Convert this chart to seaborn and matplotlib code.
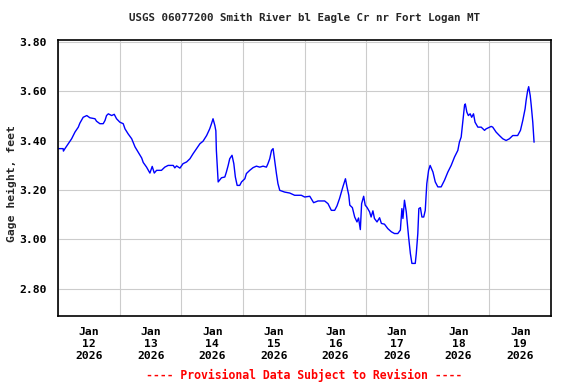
import matplotlib
matplotlib.use("Agg")
import matplotlib.pyplot as plt
import matplotlib.dates as mdates
import seaborn as sns
import pandas as pd

# hours after 2026-01-12 00:00 and gage height (ft)
hours = [0.0, 1.9, 2.0, 2.6, 3.9, 5.2, 6.5, 7.8, 8.4, 9.7, 11.1, 12.3, 14.3, 14.9,
         16.2, 17.5, 18.2, 18.8, 19.5, 20.8, 21.8, 22.7, 24.0, 25.3, 26.0, 27.2,
         28.6, 29.9, 31.1, 32.5, 33.1, 34.4, 35.7, 36.6, 37.4, 38.3, 40.2, 41.5,
         42.8, 44.8, 45.4, 46.1, 47.4, 48.6, 50.0, 51.3, 52.5, 53.9, 55.2, 56.4,
         57.8, 59.0, 59.7, 60.3, 61.0, 61.4, 61.6, 62.3, 63.6, 64.9, 65.5, 66.2,
         66.8, 67.7, 68.4, 69.0, 69.7, 70.7, 71.4, 72.7, 73.3, 74.6, 75.9, 77.2,
         78.5, 79.8, 81.1, 81.7, 82.4, 83.1, 83.7, 84.3, 85.0, 85.6, 86.3, 88.2,
         90.2, 92.1, 94.7, 96.0, 98.0, 99.5, 101.2, 103.8, 105.1, 106.4, 107.7,
         108.6, 109.6, 110.3, 110.9, 111.9, 112.5, 113.2, 113.6, 114.6, 115.5,
         116.4, 117.0, 117.7, 118.2, 119.0, 119.6, 120.3, 121.3, 121.9, 122.6,
         123.2, 124.2, 125.2, 125.9, 127.1, 128.4, 129.8, 131.0, 132.3, 133.3,
         133.9, 134.3, 134.9, 135.6, 136.5, 137.2, 137.8, 139.1, 139.5, 140.1,
         140.5, 141.1, 141.7, 142.4, 143.0, 143.6, 144.3, 144.9, 146.0, 146.9,
         147.9, 149.2, 150.5, 151.8, 153.1, 154.4, 155.7, 156.3, 157.0, 157.6,
         158.3, 158.6, 159.2, 159.8, 160.5, 161.1, 161.8, 162.4, 163.5, 164.8,
         166.1, 166.7, 168.7, 169.3, 170.6, 171.9, 173.2, 174.5, 175.8, 177.1,
         179.0, 180.1, 181.0, 181.9, 182.3, 182.9, 183.3, 183.9, 184.3, 184.9,
         185.4]
gage_ft = [3.368, 3.368, 3.358, 3.368, 3.388, 3.408, 3.435, 3.455, 3.471, 3.495,
           3.502, 3.493, 3.489, 3.479, 3.469, 3.469, 3.482, 3.502, 3.509, 3.502,
           3.507, 3.489, 3.475, 3.469, 3.448, 3.428, 3.408, 3.375, 3.354, 3.330,
           3.312, 3.293, 3.269, 3.296, 3.269, 3.280, 3.280, 3.293, 3.300, 3.300,
           3.290, 3.298, 3.289, 3.307, 3.314, 3.327, 3.347, 3.368, 3.388, 3.398,
           3.421, 3.448, 3.469, 3.489, 3.462, 3.440, 3.361, 3.233, 3.250, 3.253,
           3.273, 3.300, 3.327, 3.341, 3.307, 3.253, 3.219, 3.219, 3.233, 3.246,
           3.267, 3.280, 3.291, 3.297, 3.293, 3.297, 3.293, 3.307, 3.327, 3.361,
           3.368, 3.320, 3.267, 3.226, 3.199, 3.192, 3.188, 3.179, 3.179, 3.172,
           3.175, 3.149, 3.156, 3.156, 3.145, 3.118, 3.118, 3.136, 3.166, 3.192,
           3.213, 3.246, 3.213, 3.179, 3.139, 3.129, 3.091, 3.071, 3.087, 3.040,
           3.145, 3.175, 3.139, 3.130, 3.112, 3.091, 3.116, 3.085, 3.071, 3.088,
           3.065, 3.062, 3.044, 3.031, 3.024, 3.024, 3.038, 3.125, 3.085, 3.159,
           3.112, 3.011, 2.943, 2.903, 2.903, 2.943, 3.024, 3.125, 3.129, 3.091,
           3.091, 3.118, 3.226, 3.280, 3.300, 3.273, 3.233, 3.213, 3.213, 3.240,
           3.273, 3.300, 3.334, 3.361, 3.394, 3.415, 3.475, 3.543, 3.549, 3.516,
           3.502, 3.509, 3.495, 3.509, 3.475, 3.455, 3.455, 3.442, 3.448, 3.458,
           3.455, 3.435, 3.421, 3.408, 3.401, 3.408, 3.421, 3.421, 3.442, 3.482,
           3.529, 3.563, 3.603, 3.619, 3.583, 3.543, 3.475, 3.394]

title = "USGS 06077200 Smith River bl Eagle Cr nr Fort Logan MT"
ylabel = "Gage height, feet"
footer = "---- Provisional Data Subject to Revision ----"

start = pd.Timestamp("2026-01-12")
df = pd.DataFrame({
    "time": start + pd.to_timedelta(hours, unit="h"),
    "gage": gage_ft,
})

sns.set_style("white")
plt.rcParams["font.family"] = ["DejaVu Sans Mono"]
plt.rcParams["font.weight"] = "bold"

fig = plt.figure(figsize=(5.76, 3.84), dpi=100)
ax = fig.add_axes([0.1012, 0.1771, 0.8554, 0.72])

sns.lineplot(data=df, x="time", y="gage", ax=ax, color="#0000ff", linewidth=1.0)

ax.set_xlim(start, start + pd.Timedelta(days=8))
ax.set_ylim(2.69, 3.81)
ax.set_yticks([2.8, 3.0, 3.2, 3.4, 3.6, 3.8])
ax.yaxis.set_major_formatter(matplotlib.ticker.FormatStrFormatter("%.2f"))

ax.xaxis.set_major_locator(mdates.HourLocator(byhour=[12]))
ax.xaxis.set_major_formatter(mdates.DateFormatter("%b\n%d\n%Y"))
ax.xaxis.set_minor_locator(mdates.DayLocator())

ax.grid(False)
ax.grid(True, axis="x", which="minor", color="#cccccc", linewidth=0.8)
ax.grid(True, axis="y", which="major", color="#cccccc", linewidth=0.8)
ax.set_axisbelow(True)

ax.tick_params(axis="both", which="both", length=0, labelsize=8.2, colors="black")
ax.tick_params(axis="y", pad=8)
ax.tick_params(axis="x", pad=8)
for lbl in ax.get_xticklabels() + ax.get_yticklabels():
    lbl.set_fontweight("bold")
    lbl.set_linespacing(1.25)

for s in ax.spines.values():
    s.set_color("black")
    s.set_linewidth(1.2)

ax.set_xlabel("")
ax.set_ylabel(ylabel, fontsize=8.2, fontweight="bold", labelpad=2)
ax.yaxis.set_label_coords(-0.083, 0.48)
ax.set_title(title, fontsize=7.8, fontweight="bold", pad=13)
fig.text(0.5288, 0.023, footer, color="#ff0000", fontsize=8.3,
         fontweight="bold", ha="center", va="center")

plt.savefig("out.png", dpi=100)
plt.close()
